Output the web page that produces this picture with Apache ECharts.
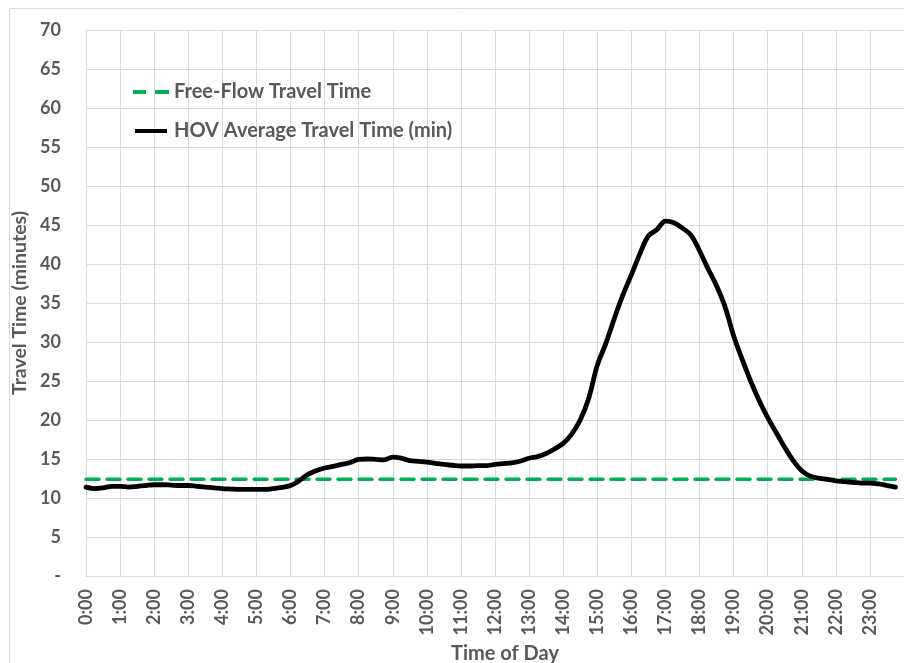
<!DOCTYPE html>
<html>
<head>
<meta charset="utf-8">
<title>HOV Average Travel Time</title>
<script src="https://cdn.jsdelivr.net/npm/echarts@6/dist/echarts.min.js"></script>
<style>
  html, body { margin: 0; padding: 0; background: #ffffff; overflow: hidden; }
  #chart { width: 904px; height: 663px; }
</style>
</head>
<body>
<div id="chart"></div>
<script>
// 15-minute time stamps across the day
const times = [
  '0:00','0:15','0:30','0:45','1:00','1:15','1:30','1:45',
  '2:00','2:15','2:30','2:45','3:00','3:15','3:30','3:45',
  '4:00','4:15','4:30','4:45','5:00','5:15','5:30','5:45',
  '6:00','6:15','6:30','6:45','7:00','7:15','7:30','7:45',
  '8:00','8:15','8:30','8:45','9:00','9:15','9:30','9:45',
  '10:00','10:15','10:30','10:45','11:00','11:15','11:30','11:45',
  '12:00','12:15','12:30','12:45','13:00','13:15','13:30','13:45',
  '14:00','14:15','14:30','14:45','15:00','15:15','15:30','15:45',
  '16:00','16:15','16:30','16:45','17:00','17:15','17:30','17:45',
  '18:00','18:15','18:30','18:45','19:00','19:15','19:30','19:45',
  '20:00','20:15','20:30','20:45','21:00','21:15','21:30','21:45',
  '22:00','22:15','22:30','22:45','23:00','23:15','23:30','23:45'
];

// HOV average travel time (minutes) for each time stamp
const hovTravelTime = [
  11.4, 11.2, 11.3, 11.5, 11.5, 11.4, 11.5, 11.6,
  11.7, 11.7, 11.65, 11.6, 11.6, 11.5, 11.4, 11.3,
  11.2, 11.15, 11.1, 11.1, 11.1, 11.1, 11.2, 11.35,
  11.6, 12.2, 13.0, 13.5, 13.85, 14.05, 14.3, 14.55,
  14.95, 15.0, 14.95, 14.9, 15.25, 15.1, 14.8, 14.7,
  14.6, 14.45, 14.3, 14.2, 14.1, 14.1, 14.15, 14.15,
  14.3, 14.4, 14.5, 14.75, 15.1, 15.3, 15.7, 16.3,
  17.0, 18.2, 20.0, 22.8, 27.0, 29.8, 33.0, 36.0,
  38.6, 41.3, 43.6, 44.4, 45.5, 45.3, 44.6, 43.7,
  41.7, 39.4, 37.2, 34.5, 30.8, 27.8, 25.0, 22.5,
  20.3, 18.4, 16.5, 14.8, 13.5, 12.8, 12.55, 12.4,
  12.2, 12.1, 12.0, 11.9, 11.9, 11.8, 11.6, 11.4
];

// Free-flow travel time (minutes), constant through the day
const freeFlowTravelTime = 12.4;

const seriesNames = ['Free-Flow Travel Time', 'HOV Average Travel Time (min)'];

// Y-axis ticks: 0..70 by 5
const yMin = 0, yMax = 70, yStep = 5;
// X-axis ticks: every hour, 0:00..23:00
const xMin = 0, xMax = 24, xStep = 1;

function toHours(t) {
  const parts = t.split(':');
  return Number(parts[0]) + Number(parts[1]) / 60;
}

const hovData = times.map((t, i) => [toHours(t), hovTravelTime[i]]);
const freeFlowData = [
  [toHours(times[0]), freeFlowTravelTime],
  [toHours(times[times.length - 1]), freeFlowTravelTime]
];

const textColor = '#595959';
const gridColor = '#D9D9D9';
const ffColor = '#00B050';
const fontFamily = 'Lato, "Open Sans", sans-serif';

const chart = echarts.init(document.getElementById('chart'), null, { renderer: 'canvas', width: 904, height: 663 });

chart.setOption({
  backgroundColor: '#ffffff',
  animation: false,
  textStyle: { fontFamily: fontFamily },
  graphic: [{
    type: 'rect',
    left: 7, top: 6,
    shape: { width: 1000, height: 1000 },
    style: { fill: 'none', stroke: gridColor, lineWidth: 1 },
    silent: true, z: -1
  }],
  grid: {
    left: 86, right: 0, top: 30, bottom: 87,
    containLabel: false,
    outerBoundsMode: 'none'
  },
  legend: {
    orient: 'vertical',
    left: 133,
    top: 82,
    padding: 0,
    itemWidth: 36,
    itemHeight: 4,
    itemGap: 19,
    textStyle: { color: textColor, fontSize: 20, fontWeight: 'bold', fontFamily: fontFamily },
    data: [
      { name: seriesNames[0], icon: 'path://M0,0h13v4h-13z M22,0h14v4h-14z' },
      { name: seriesNames[1], icon: 'path://M0,0h36v4.5h-36z' }
    ]
  },
  xAxis: {
    type: 'value',
    min: xMin, max: xMax, interval: xStep,
    name: 'Time of Day',
    nameLocation: 'middle',
    nameGap: 64,
    nameTextStyle: { color: textColor, fontSize: 20, fontWeight: 'bold', padding: [0, 0, 0, 20] },
    axisLine: { show: true, lineStyle: { color: gridColor, width: 1 } },
    axisTick: { show: false },
    splitLine: { show: true, lineStyle: { color: gridColor, width: 1 } },
    axisLabel: {
      rotate: 90,
      margin: 13,
      color: textColor,
      fontSize: 18,
      fontWeight: 'bold',
      showMaxLabel: false,
      formatter: v => (v < xMax ? v + ':00' : '')
    }
  },
  yAxis: {
    type: 'value',
    min: yMin, max: yMax, interval: yStep,
    name: 'Travel Time (minutes)',
    nameLocation: 'middle',
    nameGap: 50,
    nameTextStyle: { color: textColor, fontSize: 19.5, fontWeight: 'bold' },
    axisLine: { show: true, lineStyle: { color: gridColor, width: 1 } },
    axisTick: { show: false },
    splitLine: { show: true, lineStyle: { color: gridColor, width: 1 } },
    axisLabel: {
      margin: 25,
      color: textColor,
      fontSize: 18,
      fontWeight: 'bold',
      formatter: v => (v === 0 ? '-' : String(v))
    }
  },
  series: [
    {
      name: seriesNames[0],
      type: 'line',
      data: freeFlowData,
      symbol: 'none',
      lineStyle: { color: ffColor, width: 3.5, type: [13, 8], cap: 'round' },
      itemStyle: { color: ffColor },
      z: 2
    },
    {
      name: seriesNames[1],
      type: 'line',
      data: hovData,
      symbol: 'none',
      smooth: 0.35,
      lineStyle: { color: '#000000', width: 4.8, cap: 'round', join: 'round' },
      itemStyle: { color: '#000000' },
      z: 3
    }
  ]
});
</script>
</body>
</html>
